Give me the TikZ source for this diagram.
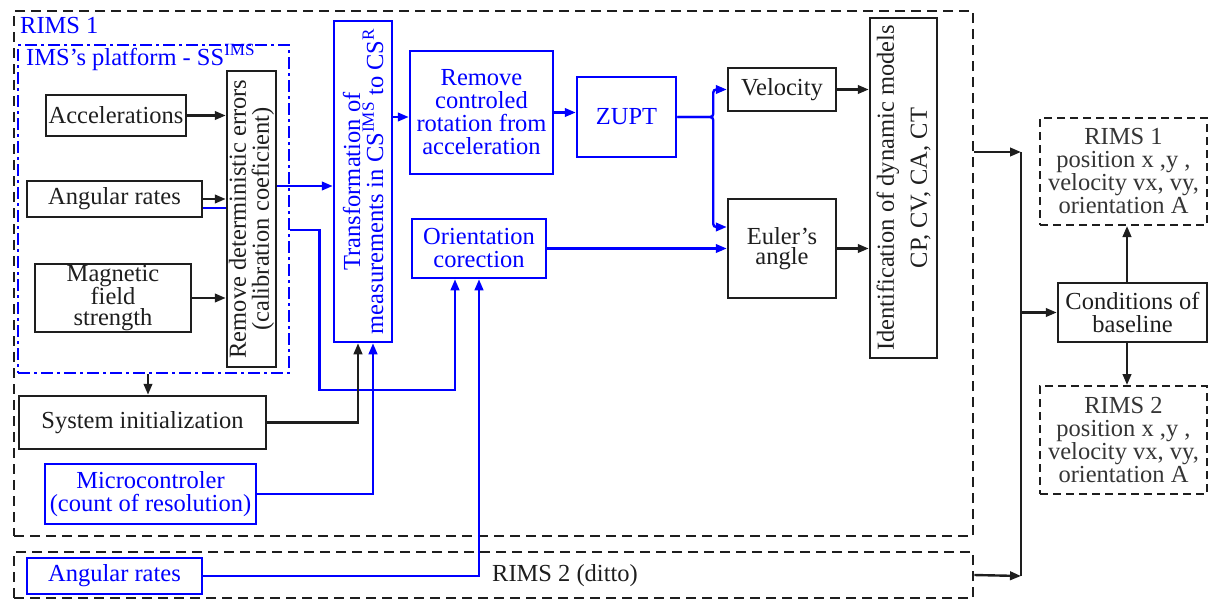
\documentclass[tikz,border=0pt]{standalone}
\usepackage{fontspec}
\setmainfont{Liberation Serif}
\usetikzlibrary{arrows.meta}
\definecolor{ink}{HTML}{1E1E1E}
\definecolor{bl}{RGB}{0,0,255}
\begin{document}
\begin{tikzpicture}[x=1pt,y=-1pt,
  every node/.style={font=\fontsize{24.5pt}{23pt}\selectfont},
  kbox/.style={draw=ink, line width=2.5pt, text=ink, align=center, inner sep=0pt},
  bbox/.style={draw=bl, line width=2.5pt, text=bl, align=center, inner sep=0pt},
  obox/.style={draw=ink, line width=2pt, dash pattern=on 8pt off 5pt, text=ink!90, align=center, inner sep=0pt},
  frame/.style={draw=ink, line width=2.6pt, dash pattern=on 10pt off 6pt, inner sep=0pt},
  kline/.style={draw=ink, line width=2.4pt},
  bline/.style={draw=bl, line width=2.4pt},
  tip/.style={-{Triangle[length=11pt,width=8.5pt]}},
]
\useasboundingbox (0,0) rectangle (1210,600);
% frames
\node[frame, minimum width=959pt, minimum height=525pt] (rims1) at (493.5,273.5) {};
\node[frame, minimum width=959pt, minimum height=46pt] (rims2) at (493.5,575) {};
\node[draw=bl, line width=2.6pt, dash pattern=on 12pt off 4pt on 3pt off 4pt, inner sep=0pt,
      minimum width=271pt, minimum height=328pt] (ims) at (153.5,209) {};
\node[text=bl, anchor=base west, inner sep=0pt] (rims1T) at (20,33) {RIMS 1};
\node[text=bl, anchor=base west, inner sep=0pt] (imsT) at (26,65) {IMS's platform - SS\textsuperscript{IMS}};
\node[text=ink, inner sep=0pt] (ditto) at (565,576) {RIMS 2 (ditto)};
% boxes
\node[kbox, minimum width=140pt, minimum height=41pt] (acc) at (116,115.5) {Accelerations};
\node[kbox, minimum width=175pt, minimum height=36pt] (ang) at (114.5,199) {Angular rates};
\node[kbox, minimum width=156pt, minimum height=68pt, font=\fontsize{24.5pt}{21pt}\selectfont] (mag) at (113,298) {Magnetic\\field\\strength};
\node[kbox, minimum width=49pt, minimum height=296pt] (remdet) at (251.5,219) {};
\node[rotate=90, text=ink, align=center, inner sep=0pt] (remdetT) at (remdet.center) {Remove deterministic errors\\(calibration coeficient)};
\node[bbox, minimum width=58pt, minimum height=321pt] (trans) at (363,181.5) {};
\node[rotate=90, text=bl, align=center, inner sep=0pt] (transT) at (trans.center) {Transformation of\\measurements in CS\textsuperscript{IMS} to CS\textsuperscript{R}};
\node[bbox, minimum width=143pt, minimum height=123pt] (remrot) at (481.5,112.5) {Remove\\controled\\rotation from\\acceleration};
\node[bbox, minimum width=99pt, minimum height=80pt] (zupt) at (626.5,117) {ZUPT};
\node[bbox, minimum width=134pt, minimum height=59pt] (orient) at (479,248.5) {Orientation\\corection};
\node[kbox, minimum width=108pt, minimum height=43pt] (vel) at (782,89.5) {Velocity};
\node[kbox, minimum width=108pt, minimum height=99pt, font=\fontsize{24.5pt}{19.5pt}\selectfont] (euler) at (782,248.5) {Euler's\\angle};
\node[kbox, minimum width=67pt, minimum height=340pt] (ident) at (903.5,188) {};
\node[rotate=90, text=ink, align=center, inner sep=0pt, font=\fontsize{24.5pt}{33pt}\selectfont] (identT) at (ident.center) {Identification of dynamic models\\CP, CV, CA, CT};
\node[kbox, minimum width=247pt, minimum height=53pt] (sysinit) at (142.5,422.5) {System initialization};
\node[bbox, minimum width=211pt, minimum height=60pt] (micro) at (150.5,494) {Microcontroler\\(count of resolution)};
\node[bbox, minimum width=175pt, minimum height=36pt] (ang2) at (114.5,576) {Angular rates};
\node[obox, minimum width=167pt, minimum height=107pt] (out1) at (1123.5,171.5) {RIMS 1\\position x ,y ,\\velocity vx, vy,\\orientation A};
\node[kbox, minimum width=149pt, minimum height=59pt] (cond) at (1132.5,312.5) {Conditions of\\baseline};
\node[obox, minimum width=167pt, minimum height=108pt] (out2) at (1123.5,440) {RIMS 2\\position x ,y ,\\velocity vx, vy,\\orientation A};
% connectors
\draw[kline,tip] (acc.east) -- (acc.east -| remdet.west);
\draw[kline,tip] (ang.east) -- (ang.east -| remdet.west);
\draw[bline] ([yshift=-9pt]ang.east) -- ([yshift=-9pt]ang.east -| remdet.west);
\draw[kline,tip] (mag.east) -- (mag.east -| remdet.west);
\draw[bline,tip] ([yshift=33pt]remdet.east) -- ([yshift=33pt]remdet.east -| trans.west);
\draw[bline,tip] ([yshift=-11pt]remdet.east -| ims.east) -- ++(29,0) -- ++(0,160) -| ([xshift=-24pt]orient.south);
\draw[bline,tip] ([yshift=-4.5pt]remrot.west -| trans.east) -- ([yshift=-4.5pt]remrot.west);
\draw[bline,tip] (remrot.east) -- (remrot.east -| zupt.west);
\draw[bline,tip,rounded corners=3pt] (zupt.east) -- ++(36,0) |- (vel.west);
\draw[bline,tip,rounded corners=3pt] (zupt.east) -- ++(36,0) |- ([yshift=21.5pt]euler.west);
\draw[bline,tip] (orient.east) -- (euler.west);
\draw[kline,tip] (vel.east) -- (vel.east -| ident.west);
\draw[kline,tip] (euler.east) -- (euler.east -| ident.west);
\draw[kline,tip] ([xshift=5.5pt]sysinit.north |- ims.south) -- ([xshift=5.5pt]sysinit.north);
\draw[kline,tip] (sysinit.east) -| ([xshift=-5pt]trans.south);
\draw[bline,tip] (micro.east) -| ([xshift=10pt]trans.south);
\draw[bline,tip] (ang2.east) -| (orient.south);
\coordinate (busT) at (1021,152);
\coordinate (busB) at (1021,576);
\draw[kline,tip] (busT -| rims1.east) -- (busT);
\draw[kline] (busT) -- (busB);
\draw[kline,tip] (rims2.east) -- (busB);
\draw[kline,tip] (busT |- cond.west) -- (cond.west);
\draw[kline,tip] ([xshift=-5.5pt]cond.north) -- ([xshift=-5.5pt]cond.north |- out1.south);
\draw[kline,tip] ([xshift=-5.5pt]cond.south) -- ([xshift=-5.5pt]cond.south |- out2.north);
\end{tikzpicture}
\end{document}
